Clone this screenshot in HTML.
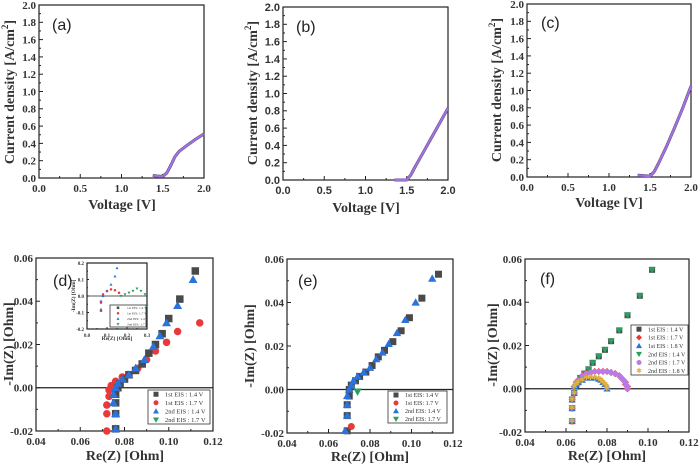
<!DOCTYPE html>
<html><head><meta charset="utf-8"><style>
html,body{margin:0;padding:0;background:#fff;}
svg{display:block;font-family:"Liberation Serif",serif;}
</style></head><body>
<svg id="fig" width="700" height="466" viewBox="0 0 700 466" xmlns="http://www.w3.org/2000/svg"></svg>
<script>
// ---- data ----
const lsvXTicks = [0.0, 0.5, 1.0, 1.5, 2.0];
const lsvYTicks = [0.0, 0.2, 0.4, 0.6, 0.8, 1.0, 1.2, 1.4, 1.6, 1.8, 2.0];
const eisXTicks = [0.04, 0.06, 0.08, 0.10, 0.12];
const eisYTicks = [-0.02, 0.00, 0.02, 0.04, 0.06];
const insetXTicks = [0.0, 0.1, 0.2, 0.3];
const insetYTicks = [-0.2, -0.1, 0.0, 0.1, 0.2];

const aVolt = [1.38, 1.45, 1.5, 1.55, 1.6, 1.65, 1.7, 1.8, 1.9, 2.0];
const aCurr = [0.03, 0.02, 0.02, 0.06, 0.15, 0.25, 0.31, 0.38, 0.45, 0.51];
const bVolt = [1.35, 1.5, 1.55, 1.6, 1.7, 1.8, 1.9, 2.0];
const bCurr = [0.0, 0.0, 0.06, 0.15, 0.32, 0.49, 0.66, 0.83];
const cVolt = [1.35, 1.5, 1.55, 1.6, 1.7, 1.8, 1.9, 2.0];
const cCurr = [0.02, 0.01, 0.06, 0.15, 0.35, 0.57, 0.8, 1.05];

const d1Re = [0.076,0.076,0.076,0.076,0.077,0.078,0.080,0.082,0.085,0.088,0.091,0.094,0.097,0.100,0.105,0.112];
const d1Im = [-0.019,-0.012,-0.007,-0.003,0,0.002,0.004,0.006,0.008,0.011,0.016,0.020,0.025,0.032,0.041,0.054];
const d2Re = [0.072,0.072,0.072,0.073,0.073,0.074,0.076,0.079,0.082,0.086,0.090,0.094,0.099,0.104,0.114];
const d2Im = [-0.020,-0.012,-0.008,-0.004,-0.001,0.001,0.003,0.005,0.006,0.009,0.013,0.017,0.021,0.026,0.030];
const d3Re = [0.076,0.076,0.075,0.075,0.076,0.077,0.079,0.082,0.085,0.089,0.093,0.096,0.099,0.104,0.111];
const d3Im = [-0.019,-0.012,-0.007,-0.003,0,0.002,0.004,0.006,0.009,0.013,0.019,0.024,0.030,0.038,0.050];
const dInBlackRe = [0.07,0.07,0.08,0.1,0.12,0.14,0.15];
const dInBlackIm = [-0.08,-0.03,0.0,0.03,0.07,0.12,0.17];
const dInRedRe = [0.07,0.07,0.08,0.1,0.12,0.14,0.16];
const dInRedIm = [-0.09,-0.04,0.01,0.03,0.04,0.035,0.02];
const dInGreenRe = [0.17,0.19,0.21,0.23,0.25,0.27,0.29,0.30];
const dInGreenIm = [0.0,0.01,0.02,0.03,0.045,0.03,0.01,-0.06];

const e1Re = [0.069,0.069,0.069,0.070,0.070,0.071,0.073,0.075,0.078,0.081,0.084,0.087,0.091,0.095,0.099,0.105,0.113];
const e1Im = [-0.019,-0.012,-0.007,-0.003,0,0.002,0.004,0.006,0.008,0.011,0.015,0.018,0.022,0.027,0.033,0.042,0.053];
const e2Re = [0.071];
const e2Im = [-0.017];
const e3Re = [0.068,0.069,0.069,0.069,0.070,0.071,0.072,0.074,0.077,0.080,0.083,0.086,0.089,0.093,0.097,0.102,0.110];
const e3Im = [-0.019,-0.012,-0.007,-0.003,0,0.002,0.004,0.006,0.008,0.010,0.014,0.017,0.021,0.026,0.032,0.040,0.051];
const e4Re = [0.074];
const e4Im = [-0.001];

const f14Re = [0.063,0.063,0.063,0.064,0.065,0.066,0.067,0.069,0.071,0.073,0.076,0.079,0.082,0.086,0.090,0.096,0.102];
const f14Im = [-0.015,-0.009,-0.005,-0.002,0.001,0.003,0.005,0.007,0.009,0.012,0.015,0.018,0.022,0.027,0.034,0.043,0.055];
const f17Re = [0.063,0.063,0.063,0.064,0.064,0.065,0.066,0.068,0.070,0.072,0.074,0.076,0.078,0.080,0.082,0.084,0.086,0.087,0.088,0.089,0.089,0.090,0.090];
const f17Im = [-0.015,-0.009,-0.005,-0.002,0.001,0.003,0.004,0.006,0.007,0.0075,0.008,0.008,0.008,0.008,0.0075,0.007,0.006,0.005,0.004,0.003,0.002,0.001,0];
const f18Re = [0.063,0.063,0.063,0.064,0.064,0.065,0.066,0.068,0.070,0.072,0.074,0.076,0.077,0.078,0.079,0.080,0.080];
const f18Im = [-0.015,-0.009,-0.005,-0.002,0.001,0.002,0.003,0.004,0.005,0.005,0.005,0.0045,0.004,0.003,0.002,0.001,0];

// ---- drawing ----
const NS = "http://www.w3.org/2000/svg";
const svg = document.getElementById('fig');
function el(tag, attrs, parent, text){
  const e = document.createElementNS(NS, tag);
  for (const k in attrs) e.setAttribute(k, attrs[k]);
  if (text !== undefined) e.textContent = text;
  (parent || svg).appendChild(e);
  return e;
}
function makeAxes(p){
  const sx = v => p.x0 + (v - p.xmin) / (p.xmax - p.xmin) * (p.x1 - p.x0);
  const sy = v => p.y1 - (v - p.ymin) / (p.ymax - p.ymin) * (p.y1 - p.y0);
  return {sx, sy};
}
function drawFrame(p, g, ax, xt, yt, fmtX, fmtY, fs, font){
  el('rect', {x:p.x0, y:p.y0, width:p.x1-p.x0, height:p.y1-p.y0, fill:'none', stroke:'#222', 'stroke-width':1.2}, g);
  const tl = p.tick || 4;
  xt.forEach((v,i) => {
    const x = ax.sx(v);
    el('line', {x1:x, x2:x, y1:p.y1, y2:p.y1-tl, stroke:'#222','stroke-width':1}, g);
    if (i < xt.length-1){ const xm=(x+ax.sx(xt[i+1]))/2; el('line',{x1:xm,x2:xm,y1:p.y1,y2:p.y1-tl/2,stroke:'#222','stroke-width':1},g); }
    const t = el('text', {x:x, y:p.y1+fs+3, 'text-anchor':'middle', 'font-size':fs, 'font-weight':'bold', fill:'#333', 'font-family':font}, g, fmtX(v));
    
    
  });
  yt.forEach((v,i) => {
    const y = ax.sy(v);
    el('line', {x1:p.x0, x2:p.x0+tl, y1:y, y2:y, stroke:'#222','stroke-width':1}, g);
    if (i < yt.length-1){ const ym=(y+ax.sy(yt[i+1]))/2; el('line',{x1:p.x0,x2:p.x0+tl/2,y1:ym,y2:ym,stroke:'#222','stroke-width':1},g); }
    const t = el('text', {x:p.x0-3, y:y+fs*0.35, 'text-anchor':'end', 'font-size':fs, 'font-weight':'bold', fill:'#333', 'font-family':font}, g, fmtY(v));
    
    
  });
}
function marker(g, shape, x, y, s, color){
  let m;
  if (shape==='sq') m = el('rect',{x:x-s/2,y:y-s/2,width:s,height:s,fill:color},g);
  else if (shape==='ci') m = el('circle',{cx:x,cy:y,r:s/2,fill:color},g);
  else if (shape==='tu') m = el('polygon',{points:`${x},${y-s*0.6} ${x-s*0.6},${y+s*0.45} ${x+s*0.6},${y+s*0.45}`,fill:color},g);
  else if (shape==='td') m = el('polygon',{points:`${x},${y+s*0.6} ${x-s*0.6},${y-s*0.45} ${x+s*0.6},${y-s*0.45}`,fill:color},g);
  else if (shape==='di') m = el('polygon',{points:`${x},${y-s*0.6} ${x-s*0.6},${y} ${x},${y+s*0.6} ${x+s*0.6},${y}`,fill:color},g);
  else if (shape==='st') m = el('text',{x:x,y:y+s*0.4,'text-anchor':'middle','font-size':s*1.4,fill:color,'font-family':'DejaVu Sans'},g,'✱');
  return m;
}
function scatter(g, ax, xs, ys, shape, size, color, name){
  for (let i=0;i<xs.length;i++){
    const m = marker(g, shape, ax.sx(xs[i]), ax.sy(ys[i]), size, color);
    
    
  }
}
function line(g, ax, xs, ys, color, w, name){
  const d = xs.map((v,i)=>(i?'L':'M')+ax.sx(v).toFixed(1)+','+ax.sy(ys[i]).toFixed(1)).join(' ');
  const p = el('path',{d:d,fill:'none',stroke:color,'stroke-width':w,'stroke-linejoin':'round'},g);
  
  
}
function panelLabel(x,y,txt){
  const t = el('text',{x:x,y:y,'font-size':16,'font-family':'Liberation Sans, sans-serif',fill:'#222'},svg,txt);
  
  
}
function yTitle(x, cy, parts){
  const t = el('text',{transform:`translate(${x},${cy}) rotate(-90)`,'text-anchor':'middle','font-size':14,'font-weight':'bold',fill:'#333'});
  
  
  parts.forEach(pt => { el('tspan', pt.sup ? {'font-size':9,dy:-6} : (pt.after?{dy:6}:{}), t, pt.t); });
}
function xTitle(cx, y, txt){
  const t = el('text',{x:cx,y:y,'text-anchor':'middle','font-size':14,'font-weight':'bold',fill:'#333'},svg,txt);
  
  
}
const f1 = v => v.toFixed(1), f2 = v => v.toFixed(2);

// LSV panels
function lsv(p, V, J, name, font){
  const g = el('g',{});  
  const ax = makeAxes(p);
  drawFrame(p, g, ax, lsvXTicks, lsvYTicks, f1, f1, 11, font);
  line(g, ax, V, J, '#333', 3, 'lsv-curve-1st');
  line(g, ax, V, J, '#a070e0', 2.4, 'lsv-curve-2nd');
  return ax;
}
lsv({x0:39,x1:204,y0:5,y1:178,xmin:0,xmax:2,ymin:0,ymax:2}, aVolt, aCurr, 'panel-a', 'Liberation Serif, serif');
lsv({x0:283,x1:448,y0:7,y1:180,xmin:0,xmax:2,ymin:0,ymax:2}, bVolt, bCurr, 'panel-b', 'Liberation Sans, sans-serif');
lsv({x0:527,x1:691,y0:4,y1:177,xmin:0,xmax:2,ymin:0,ymax:2}, cVolt, cCurr, 'panel-c', 'Liberation Serif, serif');
panelLabel(52,30,'(a)'); panelLabel(296,32,'(b)'); panelLabel(541,28,'(c)');
const cd = [{t:'Current density [A/cm'},{t:'2',sup:true},{t:']',after:true}];
yTitle(14,92,cd); yTitle(257,93,cd); yTitle(501,90,cd);
xTitle(122,209,'Voltage [V]'); xTitle(366,212,'Voltage [V]'); xTitle(609,207,'Voltage [V]');

// EIS panels
const BK='#4a4a4a', RD='#e83a3a', BL='#2a72dc', GR='#2aa060', PU='#b77ae6', YE='#e0b040';
function eisFrame(p, name){
  const g = el('g',{});  
  const ax = makeAxes(p);
  drawFrame(p, g, ax, eisXTicks, eisYTicks, f2, f2, 11, 'Liberation Serif, serif');
  const z = el('line',{x1:p.x0,x2:p.x1,y1:ax.sy(0),y2:ax.sy(0),stroke:'#222','stroke-width':1.2},g);
   
  return {g, ax};
}
function legend(x,y,w,h,entries,fs,ms,name){
  const g = el('g',{});  
  el('rect',{x:x,y:y,width:w,height:h,fill:'#fff',stroke:'#333','stroke-width':0.8},g);
  const step = h/entries.length;
  entries.forEach((e,i)=>{
    const cy = y + step*(i+0.5);
    const m = marker(g, e.s, x+8, cy, ms, e.c);
     
    const t = el('text',{x:x+17,y:cy+fs*0.35,'font-size':fs,fill:'#333'},g,e.t);
     
  });
}
// (d)
{
  const {g, ax} = eisFrame({x0:36,x1:213,y0:258,y1:431,xmin:0.04,xmax:0.12,ymin:-0.02,ymax:0.06}, 'panel-d');
  scatter(g, ax, d2Re, d2Im, 'ci', 7.5, RD, 'series-1st-1.7V');
  scatter(g, ax, d1Re, d1Im, 'sq', 7.5, BK, 'series-1st-1.4V');
  scatter(g, ax, d3Re, d3Im, 'tu', 7.5, BL, 'series-2nd-1.4V');
  legend(148,390,62,34,[{s:'sq',c:BK,t:'1st EIS : 1.4 V'},{s:'ci',c:RD,t:'1st EIS : 1.7 V'},{s:'tu',c:BL,t:'2nd EIS : 1.4 V'},{s:'td',c:GR,t:'2nd EIS : 1.7 V'}],6.5,5,'legend-d');
  // inset
  const ip = {x0:87,x1:147,y0:263,y1:329,xmin:0,xmax:0.3,ymin:-0.2,ymax:0.2,tick:2};
  const ig = el('g',{});  
  const iax = makeAxes(ip);
  el('rect',{x:ip.x0,y:ip.y0,width:60,height:66,fill:'#fff'},ig);
  drawFrame(ip, ig, iax, insetXTicks, insetYTicks, f1, f1, 5, 'Liberation Serif, serif');
  el('line',{x1:ip.x0,x2:ip.x1,y1:iax.sy(0),y2:iax.sy(0),stroke:'#222','stroke-width':0.8},ig);
  scatter(ig, iax, dInRedRe, dInRedIm, 'ci', 2.5, RD, 'inset-series-1st-1.7V');
  scatter(ig, iax, dInBlackRe, dInBlackIm, 'tu', 2.5, BL, 'inset-series-1.4V');
  scatter(ig, iax, dInGreenRe, dInGreenIm, 'td', 2.5, GR, 'inset-series-2nd-1.7V');
  legend(110,305,36,22,[{s:'sq',c:BK,t:'1st EIS: 1.4 V'},{s:'ci',c:RD,t:'1st EIS: 1.7 V'},{s:'tu',c:BL,t:'2nd EIS: 1.4 V'},{s:'td',c:GR,t:'2nd EIS: 1.7 V'}],3.5,2.5,'inset-legend');
  const it = el('text',{x:117,y:340,'text-anchor':'middle','font-size':5.5,'font-weight':'bold',fill:'#333'},svg,'Re(Z) [Ohm]');
   
  const iy = el('text',{transform:'translate(75,296) rotate(-90)','text-anchor':'middle','font-size':5.5,'font-weight':'bold',fill:'#333'},svg,'-Im(Z) [Ohm]');
   
}
// (e)
{
  const {g, ax} = eisFrame({x0:287,x1:453,y0:259,y1:433,xmin:0.04,xmax:0.12,ymin:-0.02,ymax:0.06}, 'panel-e');
  scatter(g, ax, e1Re, e1Im, 'sq', 7, BK, 'series-1st-1.4V');
  scatter(g, ax, e2Re, e2Im, 'ci', 7, RD, 'series-1st-1.7V');
  scatter(g, ax, e3Re, e3Im, 'tu', 7, BL, 'series-2nd-1.4V');
  scatter(g, ax, e4Re, e4Im, 'td', 7, GR, 'series-2nd-1.7V');
  legend(388,391,59,32,[{s:'sq',c:BK,t:'1st EIS: 1.4 V'},{s:'ci',c:RD,t:'1st EIS: 1.7 V'},{s:'tu',c:BL,t:'2nd EIS: 1.4 V'},{s:'td',c:GR,t:'2nd EIS: 1.7 V'}],6,5,'legend-e');
}
// (f)
{
  const {g, ax} = eisFrame({x0:525,x1:689,y0:259,y1:432,xmin:0.04,xmax:0.12,ymin:-0.02,ymax:0.06}, 'panel-f');
  scatter(g, ax, f14Re, f14Im, 'sq', 6, BK, 'series-1st-1.4V');
  scatter(g, ax, f14Re, f14Im, 'td', 6, GR, 'series-2nd-1.4V');
  scatter(g, ax, f17Re, f17Im, 'di', 6, RD, 'series-1st-1.7V');
  scatter(g, ax, f17Re, f17Im, 'ci', 5.5, PU, 'series-2nd-1.7V');
  scatter(g, ax, f18Re, f18Im, 'tu', 6, BL, 'series-1st-1.8V');
  scatter(g, ax, f18Re, f18Im, 'st', 5.5, YE, 'series-2nd-1.8V');
  legend(631,325,57,50,[{s:'sq',c:BK,t:'1st EIS : 1.4 V'},{s:'di',c:RD,t:'1st EIS : 1.7 V'},{s:'tu',c:BL,t:'1st EIS : 1.8 V'},{s:'td',c:GR,t:'2nd EIS : 1.4 V'},{s:'ci',c:PU,t:'2nd EIS : 1.7 V'},{s:'st',c:YE,t:'2nd EIS : 1.8 V'}],6,5,'legend-f');
}
panelLabel(53,286,'(d)'); panelLabel(298,286,'(e)'); panelLabel(540,284,'(f)');
const im = [{t:'-Im(Z) [Ohm]'}];
yTitle(13,344,im); yTitle(254,346,im); yTitle(497,345,im);
xTitle(125,460,'Re(Z) [Ohm]'); xTitle(370,461,'Re(Z) [Ohm]'); xTitle(607,460,'Re(Z) [Ohm]');
</script>
</body></html>
